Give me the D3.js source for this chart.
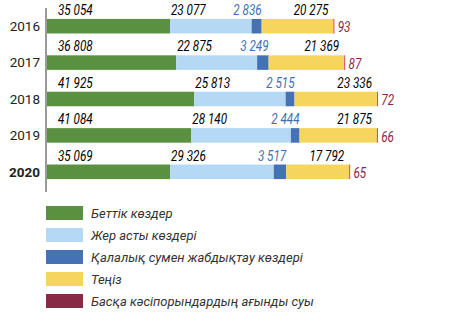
<!DOCTYPE html>
<html><head><meta charset="utf-8">
<script src="https://cdn.jsdelivr.net/npm/d3@7"></script>
<style>body{margin:0;background:#fff}</style>
</head><body><svg id="c" width="454" height="325"></svg>
<script>
const years = ["2016","2017","2018","2019","2020"];
const surface = [35054, 36808, 41925, 41084, 35069];
const ground = [23077, 22875, 25813, 28140, 29326];
const city = [2836, 3249, 2515, 2444, 3517];
const sea = [20275, 21369, 23336, 21875, 17792];
const other = [93, 87, 72, 66, 65];
const seriesNames = ["Беттік көздер","Жер асты көздері","Қалалық сумен жабдықтау көздері","Теңіз","Басқа кәсіпорындардың ағынды суы"];
const colors = ["#5a9140","#b5d8f4","#4472b4","#f6d55e","#862a45"];

const svg = d3.select("#c");
const x0 = 46;
const x = d3.scaleLinear().domain([0, 35054]).range([x0, 170]);
const y = d3.scaleBand().domain(years).range([8, 190]).paddingInner(0.6).paddingOuter(0.3);
const series = [surface, ground, city, sea, other];

const fmt = v => d3.format(",")(v).replace(/,/g, " ");
function lbl(g, tx, ty, text, color, anchor){
  g.append("text").attr("transform",`translate(${tx},${ty}) scale(0.78,1)`)
   .attr("text-anchor",anchor).attr("fill",color)
   .style("font-family","Roboto").style("font-style","italic").style("font-size","15px")
   .text(fmt(text));
}

years.forEach((yr,i)=>{
  const g = svg.append("g");
  const yt = y(yr), h = y.bandwidth();
  let acc = 0;
  const starts = [];
  series.forEach((s,k)=>{
    const a = acc, b = acc + s[i];
    starts.push([a,b]);
    const w = Math.max(x(b)-x(a), k===4 ? 1 : 0);
    g.append("rect").attr("x", x(a)).attr("y", yt).attr("width", w).attr("height", h)
      .attr("fill", k===4 ? "#d0405f" : colors[k]);
    acc = b;
  });
  const ly = yt - 4;
  lbl(g, x0+12, ly, surface[i], "#000", "start");
  lbl(g, x(starts[1][0])+1, ly, ground[i], "#000", "start");
  lbl(g, x(starts[2][1]), ly, city[i], "#3f6fb3", "end");
  lbl(g, x(starts[3][1])-5, ly, sea[i], "#000", "end");
  lbl(g, x(starts[4][1])+4, yt+h-1, other[i], "#862a45", "start");
  svg.append("text").attr("x", 40).attr("y", yt + h/2).attr("dy","0.36em")
    .attr("text-anchor","end").attr("fill","#222")
    .style("font-family","Roboto").style("font-size","13.5px")
    .style("font-weight", yr==="2020" ? "bold" : "normal").text(yr);
});

svg.append("line").attr("x1",x0).attr("x2",x0).attr("y1",8).attr("y2",192)
  .attr("stroke","#9a9a9a").attr("stroke-width",2);

const lg = svg.append("g");
seriesNames.forEach((n,k)=>{
  const yy = 206 + k*22;
  lg.append("rect").attr("x",46).attr("y",yy).attr("width",37).attr("height",14).attr("fill",colors[k]);
  lg.append("text").attr("x",91).attr("y",yy+7).attr("dy","0.36em").attr("fill","#333")
    .style("font-family","Roboto").style("font-style","italic").style("font-size","13px").text(n);
});
</script></body></html>
